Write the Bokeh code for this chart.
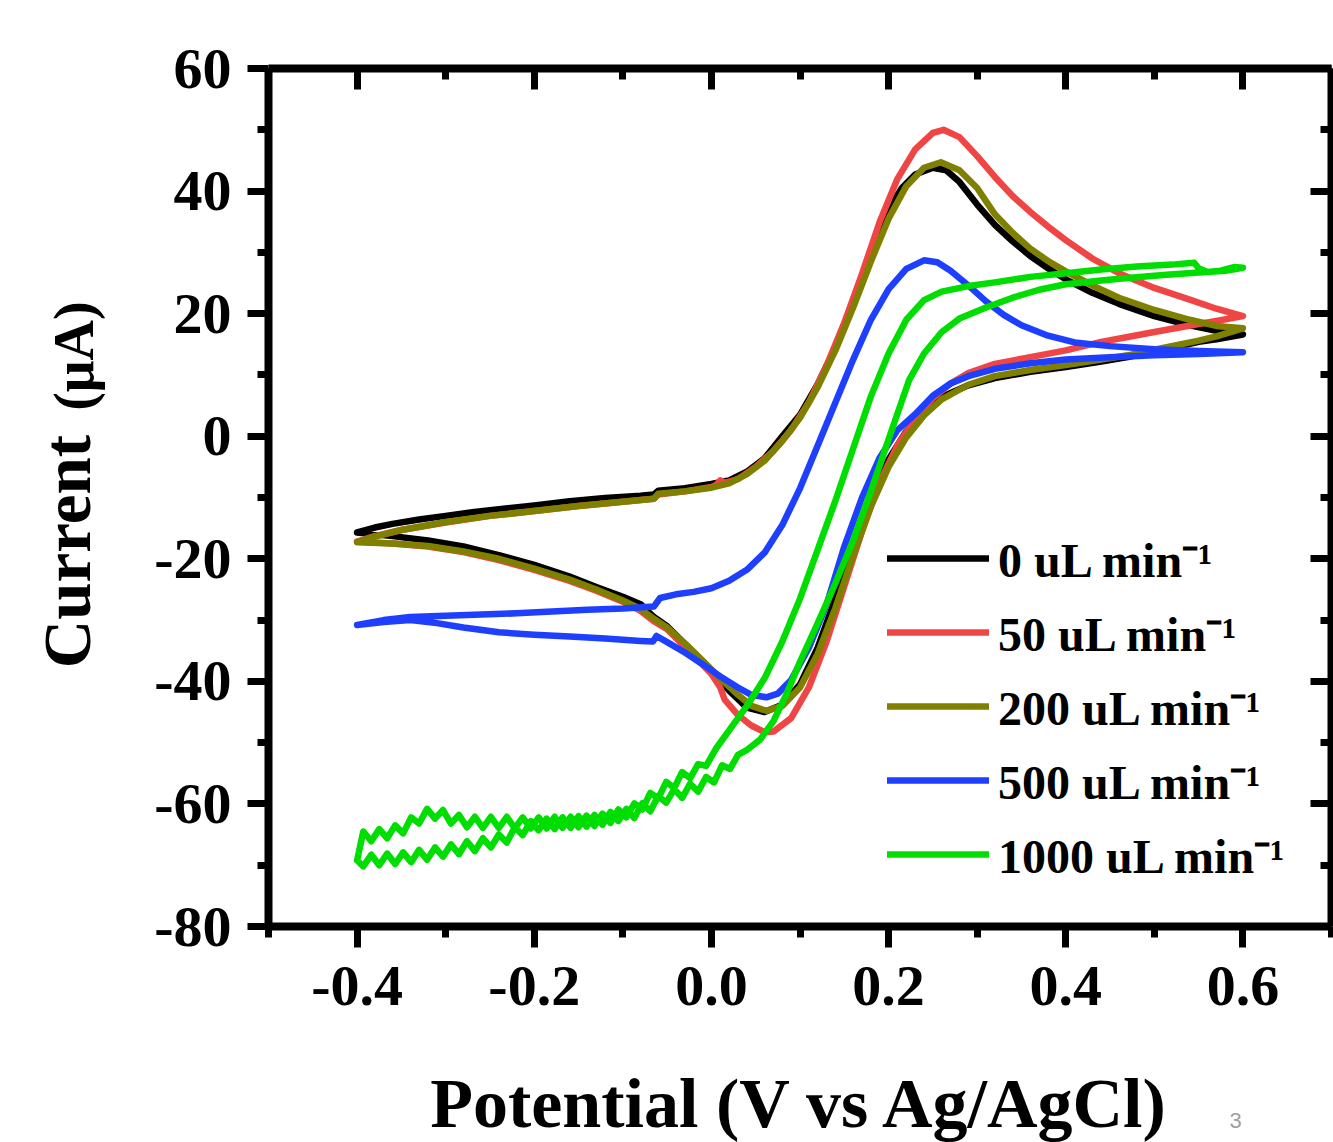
from bokeh.plotting import figure
from bokeh.models import (Range1d, LinearAxis, FixedTicker, Legend, LegendItem, Label,
                          CustomJSTickFormatter)
from bokeh.layouts import column, row
from bokeh.embed import file_html
from bokeh.resources import INLINE

FONT = "Liberation Serif"

# ---------------- axes / ticks ----------------
x_major = [-0.4, -0.2, 0.0, 0.2, 0.4, 0.6]
x_minor = [-0.5, -0.3, -0.1, 0.1, 0.3, 0.5, 0.7]
x_tick_labels = ["-0.4", "-0.2", "0.0", "0.2", "0.4", "0.6"]
y_major = [-80, -60, -40, -20, 0, 20, 40, 60]
y_minor = [-70, -50, -30, -10, 10, 30, 50]
y_tick_labels = ["-80", "-60", "-40", "-20", "0", "20", "40", "60"]

x_title = "Potential (V vs Ag/AgCl)"
y_title_main = "Current"
y_title_unit = "(μA)"
page_number = "3"

series_names = ["0 uL min⁻¹", "50 uL min⁻¹", "200 uL min⁻¹", "500 uL min⁻¹", "1000 uL min⁻¹"]
series_colors = ["#000000", "#F04545", "#808000", "#1F3FFF", "#00DD00"]

# ---------------- data (forward scan, then reverse scan) ----------------
# 0 uL/min
f0_x = [-0.40, -0.38, -0.36, -0.33, -0.30, -0.27, -0.24, -0.20, -0.16, -0.12, -0.08, -0.065, -0.06, -0.03, 0.00,
        0.02, 0.04, 0.06, 0.08, 0.10, 0.12, 0.14, 0.16, 0.18, 0.20, 0.215, 0.23, 0.25, 0.265, 0.28, 0.30, 0.32,
        0.34, 0.36, 0.38, 0.40, 0.43, 0.46, 0.50, 0.54, 0.57, 0.60]
f0_y = [-15.7, -14.9, -14.3, -13.6, -13.0, -12.4, -11.9, -11.3, -10.6, -10.1, -9.7, -9.5, -8.9, -8.5, -7.8,
        -7.2, -5.8, -3.6, 0.0, 3.5, 8.5, 14.5, 22.0, 30.0, 37.0, 40.5, 42.7, 43.8, 43.4, 41.5, 37.8, 34.5,
        31.8, 29.4, 27.4, 25.6, 23.4, 21.6, 19.6, 18.1, 17.2, 16.6]
r0_x = [0.60, 0.57, 0.55, 0.50, 0.47, 0.44, 0.40, 0.36, 0.32, 0.29, 0.26, 0.24, 0.22, 0.20, 0.18, 0.16, 0.14,
        0.12, 0.10, 0.08, 0.06, 0.04, 0.02, 0.00, -0.02, -0.05, -0.065, -0.08, -0.10, -0.13, -0.16, -0.20,
        -0.24, -0.28, -0.32, -0.36, -0.40]
r0_y = [16.6, 15.8, 15.4, 13.8, 12.9, 12.2, 11.3, 10.5, 9.5, 8.3, 6.4, 4.0, 0.8, -3.8, -10.5, -18.0, -26.5,
        -34.5, -40.5, -43.8, -45.0, -44.3, -41.5, -38.2, -35.3, -31.0, -29.5, -27.4, -26.2, -24.6, -22.9, -21.0,
        -19.4, -18.0, -17.0, -16.3, -15.7]

# 50 uL/min
f50_x = [-0.40, -0.38, -0.35, -0.30, -0.25, -0.20, -0.15, -0.10, -0.065, -0.06, -0.03, 0.00, 0.005, 0.01, 0.015,
         0.03, 0.05, 0.07, 0.09, 0.11, 0.13, 0.15, 0.17, 0.19, 0.21, 0.23, 0.25, 0.262, 0.28, 0.30, 0.32, 0.34,
         0.36, 0.38, 0.40, 0.43, 0.46, 0.50, 0.54, 0.57, 0.60]
f50_y = [-17.2, -16.3, -15.3, -14.1, -13.0, -12.2, -11.4, -10.7, -10.2, -9.5, -9.0, -8.3, -8.0, -7.2, -7.6,
         -7.0, -5.0, -2.4, 1.0, 5.5, 11.5, 18.5, 26.5, 35.0, 42.0, 46.8, 49.5, 50.0, 48.8, 45.7, 42.3, 39.2,
         36.6, 34.2, 32.0, 29.0, 26.6, 24.2, 22.3, 20.8, 19.6]
r50_x = [0.60, 0.57, 0.55, 0.50, 0.47, 0.44, 0.40, 0.36, 0.32, 0.29, 0.27, 0.25, 0.23, 0.21, 0.19, 0.17, 0.15,
         0.13, 0.11, 0.09, 0.07, 0.06, 0.045, 0.03, 0.015, 0.01, 0.00, -0.02, -0.05, -0.065, -0.08, -0.10, -0.13,
         -0.16, -0.20, -0.24, -0.28, -0.32, -0.36, -0.40]
r50_y = [19.6, 18.8, 18.3, 17.0, 16.2, 15.4, 14.0, 12.9, 11.8, 10.3, 8.6, 6.2, 2.8, -1.5, -7.5, -15.5, -24.5,
         -33.5, -41.0, -46.0, -48.2, -48.3, -47.2, -45.5, -43.0, -41.0, -38.8, -35.8, -31.5, -30.2, -28.5, -27.0,
         -25.2, -23.6, -21.8, -20.2, -18.9, -18.0, -17.5, -17.2]

# 200 uL/min
f200_x = [-0.40, -0.38, -0.35, -0.30, -0.25, -0.20, -0.15, -0.10, -0.065, -0.06, -0.03, 0.00, 0.02, 0.04, 0.06,
          0.08, 0.10, 0.12, 0.14, 0.16, 0.18, 0.20, 0.22, 0.24, 0.259, 0.28, 0.30, 0.32, 0.34, 0.36, 0.38, 0.40,
          0.43, 0.46, 0.50, 0.54, 0.57, 0.60]
f200_y = [-17.3, -16.4, -15.3, -14.0, -13.0, -12.2, -11.4, -10.7, -10.2, -9.4, -9.0, -8.4, -7.7, -6.2, -4.0,
          -0.8, 3.0, 8.0, 14.0, 21.0, 28.5, 35.5, 40.8, 43.8, 44.7, 43.4, 40.5, 36.2, 33.2, 30.6, 28.6, 26.9,
          24.6, 22.6, 20.6, 19.0, 18.0, 17.6]
r200_x = [0.60, 0.57, 0.55, 0.50, 0.47, 0.44, 0.40, 0.36, 0.32, 0.29, 0.26, 0.24, 0.22, 0.20, 0.18, 0.16, 0.14,
          0.12, 0.10, 0.08, 0.062, 0.045, 0.03, 0.01, -0.01, -0.03, -0.05, -0.065, -0.08, -0.10, -0.13, -0.16,
          -0.20, -0.24, -0.28, -0.32, -0.36, -0.40]
r200_y = [17.6, 16.3, 15.6, 14.1, 13.2, 12.5, 11.6, 10.8, 9.8, 8.4, 6.0, 3.4, -0.2, -5.0, -11.5, -19.5, -28.0,
          -35.5, -41.0, -44.0, -44.8, -44.0, -42.2, -39.5, -36.6, -33.8, -31.2, -29.8, -28.2, -26.8, -25.0, -23.4,
          -21.6, -20.0, -18.8, -17.9, -17.5, -17.3]

# 500 uL/min
f500_x = [-0.40, -0.37, -0.34, -0.30, -0.26, -0.22, -0.18, -0.14, -0.10, -0.065, -0.058, -0.04, -0.02, 0.00,
          0.02, 0.04, 0.06, 0.08, 0.10, 0.12, 0.14, 0.16, 0.18, 0.20, 0.22, 0.24, 0.255, 0.27, 0.29, 0.31, 0.33,
          0.35, 0.38, 0.41, 0.45, 0.50, 0.55, 0.60]
f500_y = [-30.8, -30.0, -29.5, -29.3, -29.1, -28.9, -28.6, -28.3, -28.1, -27.8, -26.4, -25.8, -25.4, -24.8,
          -23.6, -21.8, -19.0, -14.5, -8.5, -1.5, 5.5, 12.5, 19.0, 24.0, 27.3, 28.7, 28.4, 27.0, 24.6, 22.0, 19.8,
          18.1, 16.4, 15.3, 14.7, 14.2, 13.9, 13.7]
r500_x = [0.60, 0.55, 0.50, 0.45, 0.40, 0.36, 0.32, 0.29, 0.27, 0.25, 0.23, 0.21, 0.19, 0.17, 0.15, 0.13, 0.11,
          0.09, 0.075, 0.062, 0.045, 0.03, 0.01, -0.01, -0.03, -0.05, -0.062, -0.066, -0.08, -0.12, -0.16, -0.20,
          -0.24, -0.28, -0.31, -0.34, -0.37, -0.40]
r500_y = [13.7, 13.4, 13.2, 12.9, 12.5, 11.9, 11.0, 9.8, 8.6, 6.6, 3.6, 1.0, -3.5, -10.0, -18.0, -27.5, -34.5,
          -39.8, -42.0, -42.6, -42.2, -41.0, -39.2, -37.2, -35.3, -33.6, -32.6, -33.5, -33.4, -33.0, -32.7, -32.4,
          -32.0, -31.2, -30.5, -30.0, -30.3, -30.8]

# 1000 uL/min (noisy at negative potentials)
f1000_x = [-0.400, -0.393, -0.384, -0.375, -0.366, -0.357, -0.348, -0.339, -0.330, -0.321, -0.312, -0.303,
           -0.294, -0.285, -0.276, -0.267, -0.258, -0.249, -0.240, -0.231, -0.222, -0.213, -0.204, -0.195,
           -0.186, -0.177, -0.168, -0.159, -0.150, -0.141, -0.132, -0.123, -0.114, -0.105, -0.096, -0.087,
           -0.078, -0.069, -0.060, -0.051, -0.042, -0.033, -0.024, -0.015, -0.006, 0.005, 0.02, 0.04, 0.06,
           0.08, 0.10, 0.12, 0.14, 0.16, 0.18, 0.20, 0.22, 0.24, 0.26, 0.29, 0.32, 0.36, 0.40, 0.44, 0.48, 0.52,
           0.545, 0.55, 0.56, 0.575, 0.59, 0.60]
f1000_y = [-69.2, -64.5, -66.1, -64.1, -65.6, -63.5, -64.8, -62.2, -63.2, -60.8, -62.4, -61.0,
           -63.2, -61.8, -63.8, -62.1, -63.9, -62.1, -63.9, -62.1, -64.0, -62.2, -64.0, -62.2,
           -64.0, -62.1, -63.9, -62.1, -63.8, -61.9, -63.6, -61.6, -63.1, -60.9, -62.2, -59.9,
           -60.9, -58.2, -59.1, -56.4, -57.4, -54.8, -55.8, -53.5, -53.8, -51.0, -48.0, -44.0, -39.5,
           -33.5, -26.5, -18.5, -10.5, -2.0, 6.5, 13.5, 19.0, 22.2, 23.6, 24.5, 25.1, 26.0, 26.6, 27.2, 27.7, 28.0,
           28.3, 27.4, 26.8, 27.0, 27.6, 27.5]
r1000_x = [0.60, 0.58, 0.55, 0.51, 0.47, 0.44, 0.40, 0.37, 0.34, 0.31, 0.28, 0.26, 0.24, 0.223, 0.20, 0.18,
           0.16, 0.14, 0.12, 0.10, 0.085, 0.07, 0.055, 0.040,
           0.030, 0.021, 0.012, 0.003, -0.006, -0.015, -0.024, -0.033, -0.042, -0.051, -0.060, -0.069, -0.078,
           -0.087, -0.096, -0.105, -0.114, -0.123, -0.132, -0.141, -0.150, -0.159, -0.168, -0.177, -0.186,
           -0.195, -0.204, -0.213, -0.222, -0.231, -0.240, -0.249, -0.258, -0.267, -0.276, -0.285, -0.294,
           -0.303, -0.312, -0.321, -0.330, -0.339, -0.348, -0.357, -0.366, -0.375, -0.384, -0.393, -0.400]
r1000_y = [27.5, 27.0, 26.7, 26.3, 25.8, 25.4, 24.8, 23.9, 22.6, 21.0, 19.2, 17.0, 13.5, 9.1, -0.5, -9.0,
           -17.0, -24.0, -30.5, -36.8, -42.0, -46.5, -49.5, -51.2,
           -52.0, -54.3, -53.7, -56.5, -55.6, -58.0, -56.7, -59.0, -57.6, -59.8, -58.7, -61.2, -59.9,
           -62.3, -60.8, -62.8, -61.3, -63.4, -61.8, -63.7, -62.0, -63.9, -62.2, -64.1, -62.4,
           -64.3, -62.8, -65.1, -63.8, -66.3, -65.0, -67.1, -65.6, -67.7, -66.1, -68.2, -66.6,
           -68.6, -67.1, -69.1, -67.5, -69.5, -67.9, -69.8, -68.1, -70.0, -68.3, -70.2, -69.2]

series_x = [f0_x + r0_x, f50_x + r50_x, f200_x + r200_x, f500_x + r500_x, f1000_x + r1000_x]
series_y = [f0_y + r0_y, f50_y + r50_y, f200_y + r200_y, f500_y + r500_y, f1000_y + r1000_y]

# ---------------- layout sizes (pixels) ----------------
TOTAL_W, TOTAL_H = 1333, 1142
LEFT_W = 110            # strip carrying the y-axis title
BOTTOM_H = 80           # strip carrying the x-axis title
MAIN_W = TOTAL_W - LEFT_W
MAIN_H = TOTAL_H - BOTTOM_H


def text_strip(w, h):
    f = figure(width=w, height=h, x_range=Range1d(0, w), y_range=Range1d(0, h),
               output_backend="svg", toolbar_location=None, min_border=0,
               x_axis_location=None, y_axis_location=None)
    f.grid.visible = False
    f.outline_line_color = None
    f.background_fill_color = "white"
    f.border_fill_color = "white"
    return f


# ---------------- main figure ----------------
p = figure(width=MAIN_W, height=MAIN_H,
           x_range=Range1d(-0.5, 0.7), y_range=Range1d(-80, 60),
           output_backend="svg", toolbar_location=None,
           min_border_left=268 - LEFT_W, min_border_right=2, min_border_top=68,
           min_border_bottom=MAIN_H - 926)
p.grid.visible = False
p.outline_line_color = None
p.background_fill_color = "white"
p.border_fill_color = "white"

AX_W = 8
TK_W = 7

xt = FixedTicker(ticks=x_major, minor_ticks=x_minor)
yt = FixedTicker(ticks=y_major, minor_ticks=y_minor)
blank = CustomJSTickFormatter(code="return ''")


def style_axis(ax, ticker, labels, ticks, show_labels, tick_in, tick_out, minor_in, minor_out, standoff):
    ax.ticker = ticker
    ax.axis_line_width = AX_W
    ax.axis_line_color = "black"
    ax.major_tick_line_width = TK_W
    ax.minor_tick_line_width = TK_W
    ax.major_tick_line_color = "black"
    ax.minor_tick_line_color = "black"
    ax.major_tick_in = tick_in
    ax.major_tick_out = tick_out
    ax.minor_tick_in = minor_in
    ax.minor_tick_out = minor_out
    ax.axis_label = None
    if show_labels:
        ax.major_label_overrides = {t: l for t, l in zip(ticks, labels)}
        ax.major_label_text_font = FONT
        ax.major_label_text_font_style = "bold"
        ax.major_label_text_font_size = "58px"
        ax.major_label_text_color = "black"
        ax.major_label_standoff = standoff
    else:
        ax.formatter = blank
        ax.major_label_standoff = 0


style_axis(p.xaxis[0], xt, x_tick_labels, x_major, True, 0, 21, 0, 11, 19)
style_axis(p.yaxis[0], yt, y_tick_labels, y_major, True, 0, 21, 0, 11, 16)

top_ax = LinearAxis()
style_axis(top_ax, xt, x_tick_labels, x_major, False, 21, 0, 11, 0, 0)
p.add_layout(top_ax, "above")
right_ax = LinearAxis()
style_axis(right_ax, yt, y_tick_labels, y_major, False, 21, 0, 11, 0, 0)
p.add_layout(right_ax, "right")

# ---------------- curves ----------------
renderers = []
for xs, ys, col in zip(series_x, series_y, series_colors):
    r = p.line(xs, ys, line_color=col, line_width=6.5, line_cap="round", line_join="round")
    renderers.append(r)

legend = Legend(items=[LegendItem(label=n, renderers=[r]) for n, r in zip(series_names, renderers)],
                location=(619, 35), orientation="vertical", padding=0, margin=0, spacing=0,
                glyph_width=102, glyph_height=74, label_height=74, label_standoff=9,
                label_text_font=FONT, label_text_font_style="bold", label_text_font_size="48px",
                label_text_color="black", border_line_alpha=0, background_fill_alpha=0)
p.add_layout(legend)

# ---------------- y title strip (positions: strip pixels, y measured from the strip bottom) ----------------
pl = text_strip(LEFT_W, MAIN_H)
pl.add_layout(Label(x=66, y=MAIN_H - 598, text=y_title_main, angle=90, angle_units="deg",
                    text_align="center", text_baseline="middle",
                    text_font=FONT, text_font_style="bold", text_font_size="67px", text_color="black"))
pl.add_layout(Label(x=73, y=MAIN_H - 356, text=y_title_unit, angle=90, angle_units="deg",
                    text_align="center", text_baseline="middle",
                    text_font=FONT, text_font_style="bold", text_font_size="56px", text_color="black"))

# ---------------- x title strip ----------------
pb = text_strip(TOTAL_W, BOTTOM_H)
pb.add_layout(Label(x=800, y=TOTAL_H - 1103, text=x_title, text_align="center", text_baseline="middle",
                    text_font=FONT, text_font_style="bold", text_font_size="70px", text_color="black"))
pb.add_layout(Label(x=1235, y=TOTAL_H - 1120, text=page_number, text_align="center",
                    text_baseline="middle", text_font="Liberation Sans", text_font_size="22px",
                    text_color="#A0A0A0"))

layout = column(row(pl, p, spacing=0), pb, spacing=0)
open("out.html", "w").write(file_html(layout, INLINE))
